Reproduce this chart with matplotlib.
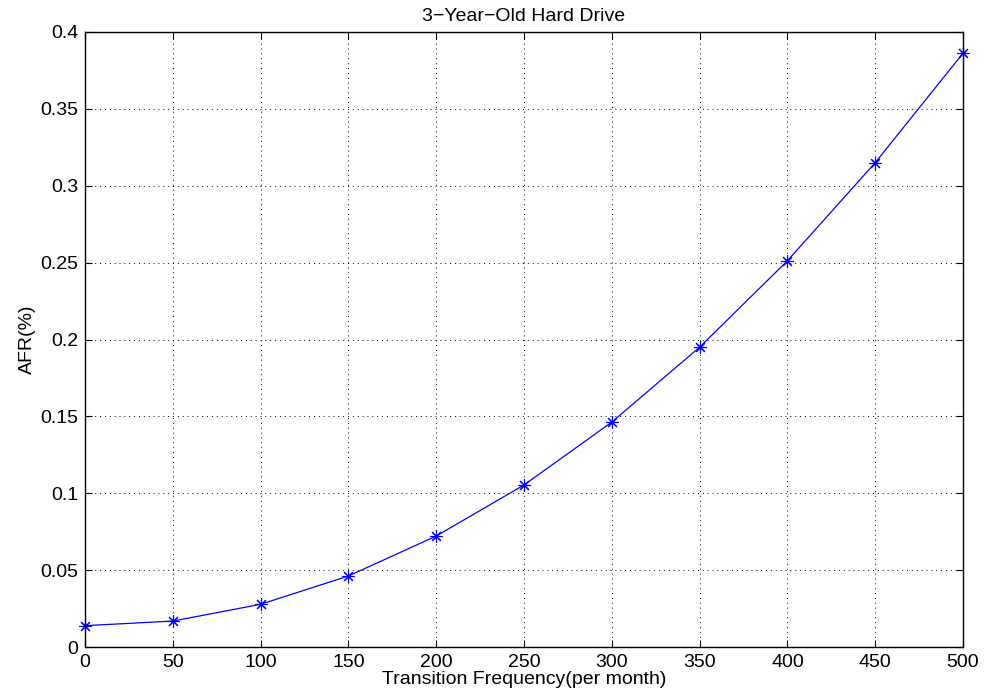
import numpy as np
import matplotlib
matplotlib.use("Agg")
from matplotlib import pyplot as plt

plt.rcParams['font.family'] = ['Liberation Sans', 'DejaVu Sans']

freq = [0, 50, 100, 150, 200, 250, 300, 350, 400, 450, 500]
afr = [0.0139, 0.0169, 0.0278, 0.0462, 0.0722, 0.1054, 0.1463, 0.1950, 0.2512, 0.3150, 0.3862]

fig = plt.figure(figsize=(9.84, 6.95), dpi=100)
ax = fig.add_axes([0.0864, 0.069, 0.8923, 0.885])

# MATLAB-like asterisk marker (+ and x overlaid)
ax.plot(freq, afr, linestyle='-', color='blue', lw=0.9,
        marker=(8, 2, 0), markersize=9, markeredgewidth=0.8, clip_on=False)

ax.set_xlim(0, 500)
ax.set_ylim(0, 0.4)
ax.set_xticks(np.arange(0, 501, 50))
ax.set_yticks(np.arange(0, 0.41, 0.05))
ax.set_yticklabels(['0', '0.05', '0.1', '0.15', '0.2', '0.25', '0.3', '0.35', '0.4'])

ax.tick_params(direction='in', length=5, labelsize=14, top=True, right=True, pad=5)
ax.grid(True, ls=(0, (1, 4)), color='black', lw=0.7)
for sp in ax.spines.values():
    sp.set_linewidth(1.0)

ax.set_xlabel('Transition Frequency(per month)', fontsize=14, labelpad=0)
ax.set_ylabel('AFR(%)', fontsize=14, labelpad=3)
ax.set_title('3\u2212Year\u2212Old Hard Drive', fontsize=14, pad=8)

fig.savefig('out.png', dpi=100)
